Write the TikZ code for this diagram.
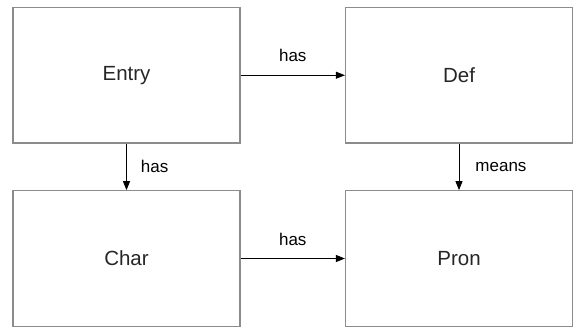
\documentclass[tikz,border=0pt]{standalone}
\usepackage{fontspec}
\setmainfont{Liberation Sans}
\usetikzlibrary{arrows.meta}
\begin{document}
\begin{tikzpicture}[x=1pt,y=-1pt,
  entity/.style={draw=black!45,line width=1.2pt,minimum width=227pt,minimum height=135.5pt,
    inner sep=0pt,font=\fontsize{20.5}{24}\selectfont,text=black!85},
  rel/.style={-{Triangle[length=9pt,width=7pt]},line width=0.9pt,black},
  lbl/.style={font=\fontsize{17}{20}\selectfont,inner sep=0pt}]
\useasboundingbox (0,0) rectangle (573,327);
\node[entity] (entry) at (126.5,75.25) {Entry};
\node[entity] (def) at (459,75.25) {Def};
\node[entity] (char) at (126.5,258.5) {Char};
\node[entity] (pron) at (459,258.5) {Pron};
\draw[rel] (entry) -- node[lbl,above=13pt] {has} (def);
\draw[rel] (char) -- node[lbl,above=12pt] {has} (pron);
\draw[rel] (entry) -- node[lbl,right=14pt] {has} (char);
\draw[rel] (def) -- node[lbl,right=16pt] {means} (pron);
\end{tikzpicture}
\end{document}
